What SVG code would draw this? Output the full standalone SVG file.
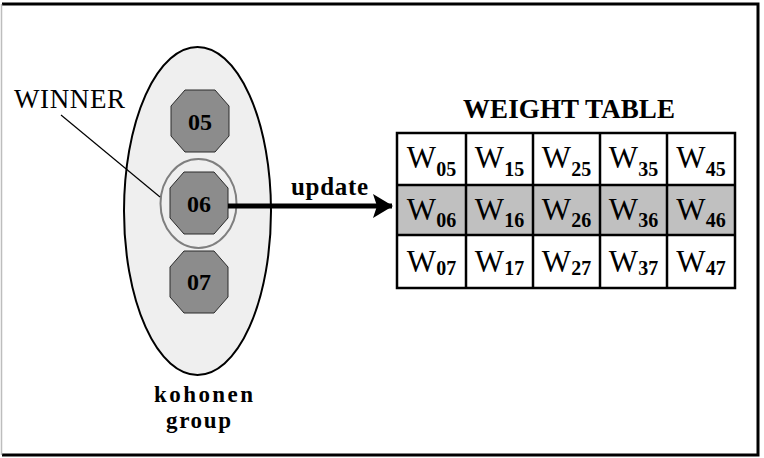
<svg xmlns="http://www.w3.org/2000/svg" width="764" height="458" viewBox="0 0 764 458">
  <defs>
    <style>
      .lbl { font-family: "Liberation Serif", "Times New Roman", serif; fill: #000; }
      .bold { font-weight: bold; }
      .oct { fill: #8c8c8c; stroke: #2a2a2a; stroke-width: 1; }
      .num { font-family: "Liberation Serif", serif; font-weight: bold; font-size: 24px; text-anchor: middle; }
      .cell { stroke: #000; stroke-width: 2.5; }
      .w { font-family: "Liberation Serif", serif; font-size: 31px; text-anchor: middle; }
      .sub { font-weight: bold; font-size: 20px; }
    </style>
    <marker id="head" viewBox="0 0 20 24" refX="19" refY="12" markerWidth="20" markerHeight="24" markerUnits="userSpaceOnUse" orient="auto">
      <path d="M0,0 L20,12 L0,24 L4,12 Z" fill="#000"/>
    </marker>
    <polygon id="octagon" points="-15,-31 15,-31 29,-15 29,15 15,31 -15,31 -29,15 -29,-15"/>
  </defs>

  <rect width="764" height="458" fill="#fff"/>

  <!-- outer frame -->
  <path d="M2,4 H758 V455 H2" fill="none" stroke="#000" stroke-width="3"/>
  <line x1="1.5" y1="4" x2="1.5" y2="455" stroke="#bdbdbd" stroke-width="1.5"/>

  <!-- kohonen group -->
  <g id="kohonen-group">
    <ellipse cx="197.5" cy="211" rx="73.5" ry="164" fill="#efefef" stroke="#000" stroke-width="2"/>
    <text class="lbl bold" x="203.5" y="402" font-size="23" text-anchor="middle" textLength="99">kohonen</text>
    <text class="lbl bold" x="198.5" y="428" font-size="23" text-anchor="middle" textLength="65">group</text>
  </g>

  <g id="node-05">
    <use href="#octagon" class="oct" x="200" y="121"/>
    <text class="num" x="200" y="130">05</text>
  </g>

  <g id="node-06">
    <ellipse cx="198.5" cy="203.5" rx="38" ry="44.5" fill="none" stroke="#7f7f7f" stroke-width="2"/>
    <use href="#octagon" class="oct" x="199" y="203"/>
    <text class="num" x="199" y="212">06</text>
  </g>

  <g id="node-07">
    <use href="#octagon" class="oct" x="199" y="282"/>
    <text class="num" x="199" y="290">07</text>
  </g>

  <g id="winner-label">
    <text class="lbl" x="14" y="108" font-size="27" textLength="111">WINNER</text>
  </g>

  <!-- connectors -->
  <g id="connectors">
    <line x1="228" y1="206" x2="392" y2="206" stroke="#000" stroke-width="5" marker-end="url(#head)"/>
    <line x1="61" y1="115" x2="160" y2="197" stroke="#000" stroke-width="1.2"/>
    <text class="lbl bold" x="291" y="195" font-size="25" textLength="77">update</text>
  </g>

  <!-- weight table -->
  <g id="weight-table">
    <text class="lbl bold" x="463" y="118" font-size="27" textLength="212">WEIGHT TABLE</text>
    <rect x="397" y="185" width="338" height="50" fill="#c0c0c0"/>
    <rect x="397" y="133" width="338" height="155" fill="none" class="cell"/>
    <g class="cell">
      <line x1="397" y1="185" x2="735" y2="185"/>
      <line x1="397" y1="235" x2="735" y2="235"/>
      <line x1="466" y1="133" x2="466" y2="288"/>
      <line x1="533" y1="133" x2="533" y2="288"/>
      <line x1="600" y1="133" x2="600" y2="288"/>
      <line x1="667" y1="133" x2="667" y2="288"/>
    </g>

    <text class="w" x="431.5" y="168">W<tspan class="sub" dy="8">05</tspan></text>
    <text class="w" x="499.5" y="168">W<tspan class="sub" dy="8">15</tspan></text>
    <text class="w" x="566.5" y="168">W<tspan class="sub" dy="8">25</tspan></text>
    <text class="w" x="633.5" y="168">W<tspan class="sub" dy="8">35</tspan></text>
    <text class="w" x="701" y="168">W<tspan class="sub" dy="8">45</tspan></text>

    <text class="w" x="431.5" y="220">W<tspan class="sub" dy="7">06</tspan></text>
    <text class="w" x="499.5" y="220">W<tspan class="sub" dy="7">16</tspan></text>
    <text class="w" x="566.5" y="220">W<tspan class="sub" dy="7">26</tspan></text>
    <text class="w" x="633.5" y="220">W<tspan class="sub" dy="7">36</tspan></text>
    <text class="w" x="701" y="220">W<tspan class="sub" dy="7">46</tspan></text>

    <text class="w" x="431.5" y="272">W<tspan class="sub" dy="3">07</tspan></text>
    <text class="w" x="499.5" y="272">W<tspan class="sub" dy="3">17</tspan></text>
    <text class="w" x="566.5" y="272">W<tspan class="sub" dy="3">27</tspan></text>
    <text class="w" x="633.5" y="272">W<tspan class="sub" dy="3">37</tspan></text>
    <text class="w" x="701" y="272">W<tspan class="sub" dy="3">47</tspan></text>
  </g>
</svg>
